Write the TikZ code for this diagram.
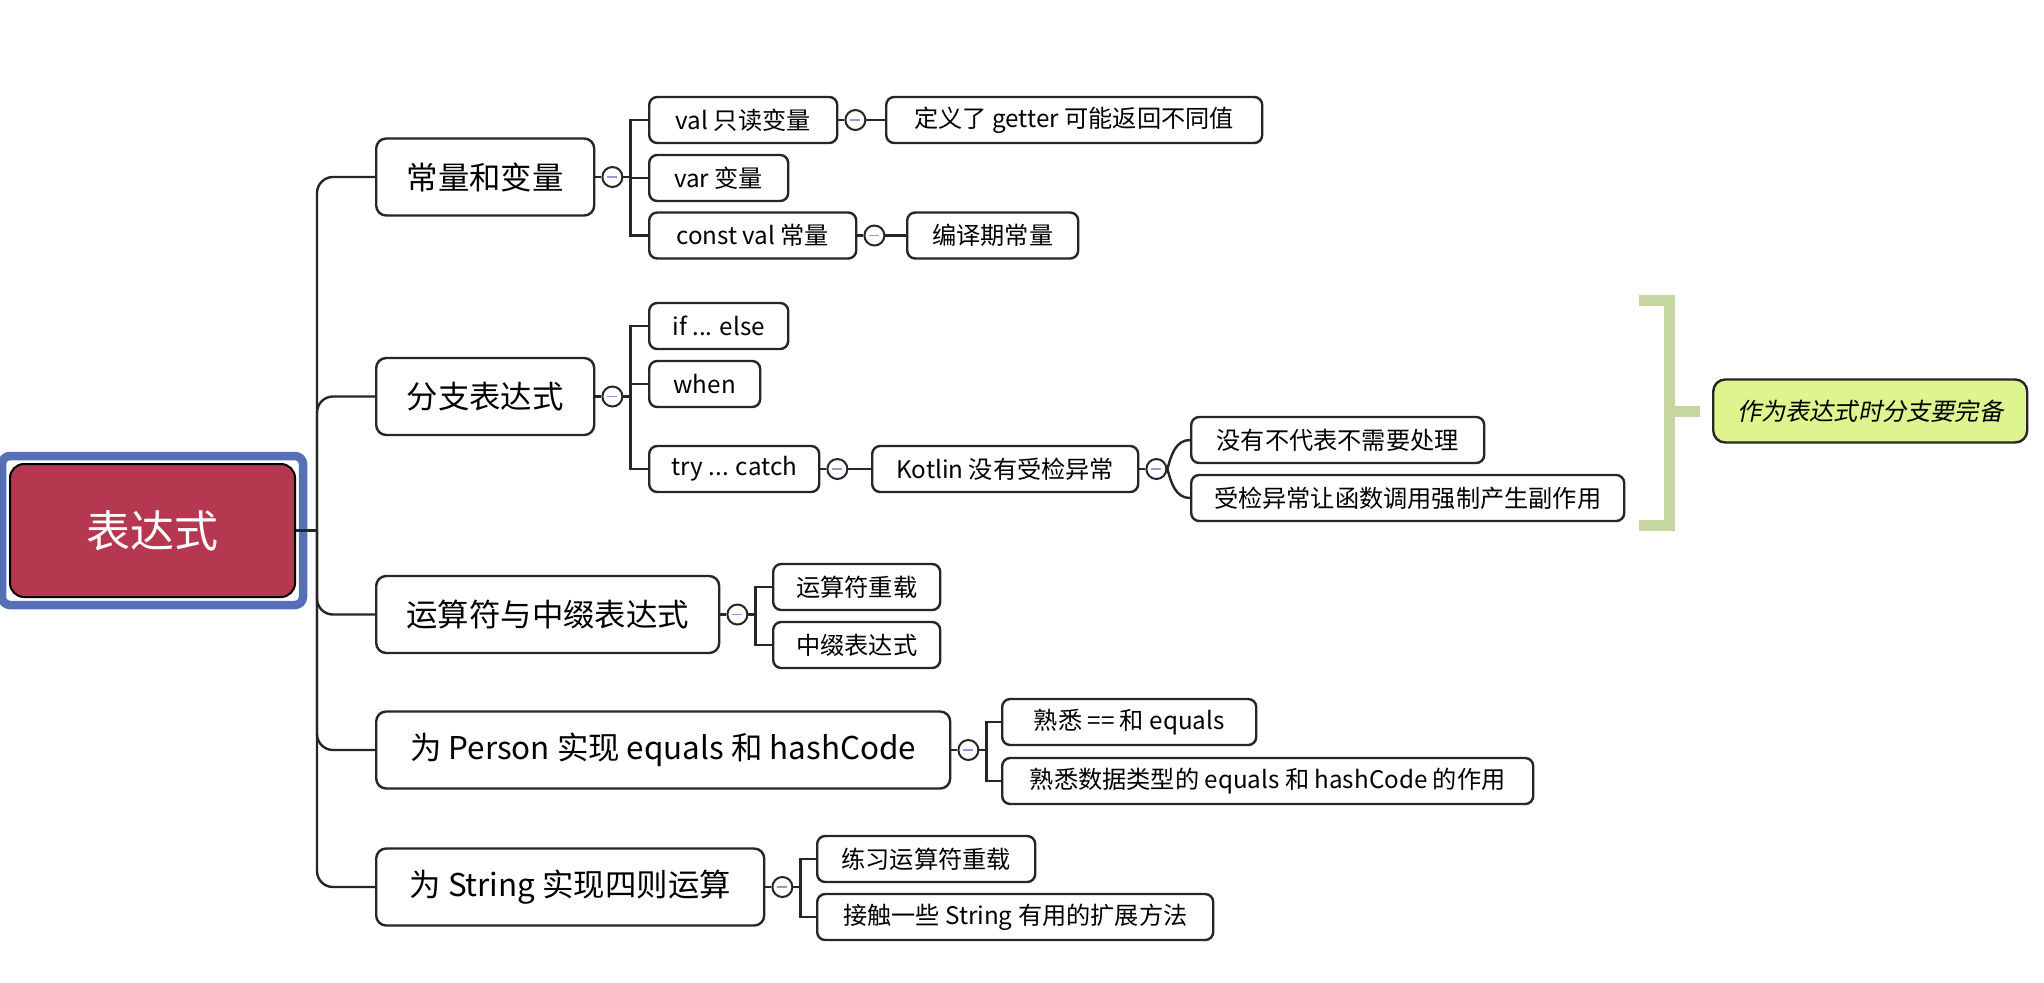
\documentclass[tikz,border=0pt]{standalone}
\usepackage{fontspec}
\setmainfont{Noto Sans CJK SC}
\newfontfamily\slantfont[FakeSlant=0.2]{Noto Sans CJK SC}
\usetikzlibrary{positioning}

\definecolor{rootred}{RGB}{181,55,80}
\definecolor{frameblue}{RGB}{86,112,184}
\definecolor{bracegreen}{RGB}{198,214,160}
\definecolor{notegreen}{RGB}{222,245,143}
\definecolor{minusblue}{RGB}{150,152,205}

\tikzset{
  link/.style={line width=1.2pt, draw=black!85},
  rootbox/.style={draw=black, line width=1pt, fill=rootred, rounded corners=7pt, text=white,
    minimum width=142.5pt, minimum height=66.5pt, font=\fontsize{22pt}{26pt}\selectfont},
  frame/.style={draw=frameblue, line width=4.25pt, rounded corners=4pt},
  mainbox/.style={draw=black!85, line width=1.2pt, fill=white, rounded corners=5pt, anchor=west,
    minimum height=38.5pt, font=\fontsize{15.7pt}{18pt}\selectfont},
  subbox/.style={draw=black!85, line width=1.2pt, fill=white, rounded corners=4pt, anchor=west,
    minimum height=23pt, font=\fontsize{12.1pt}{14pt}\selectfont},
  fold/.style={circle, draw=black!85, line width=1pt, fill=white, minimum size=10pt, inner sep=0pt,
    path picture={\draw[minusblue, line width=0.9pt]
      ([xshift=-2.5pt]path picture bounding box.center) -- ([xshift=2.5pt]path picture bounding box.center);}},
  summary/.style={draw=bracegreen, line width=5.5pt},
  notebox/.style={draw=black!85, line width=1.2pt, fill=notegreen, rounded corners=6pt, anchor=west,
    minimum width=157pt, minimum height=31.5pt, font=\slantfont\fontsize{12.1pt}{14pt}\selectfont}
}

\begin{document}
\begin{tikzpicture}[x=0.5pt,y=-0.5pt]
\useasboundingbox (0,0) rectangle (2044,982);
%root
\node[rootbox] (root) at (152.5,530.5) {表达式};
\draw[frame] ([shift={(-3.5pt,3.5pt)}]root.north west) rectangle ([shift={(3.5pt,-3.5pt)}]root.south east);
\coordinate (hub) at (317,530.5);
%main branches
\node[mainbox, minimum width=109pt] (consts) at (375,177) {常量和变量};
\node[mainbox, minimum width=109pt] (branch) at (375,396.5) {分支表达式};
\node[mainbox, minimum width=171.5pt] (oper) at (375,614.5) {运算符与中缀表达式};
\node[mainbox, minimum width=287pt] (equals) at (375,750) {为 Person 实现 equals 和 hashCode};
\node[mainbox, minimum width=194pt] (strops) at (375,887) {为 String 实现四则运算};
\draw[link] (root.east) -- (hub);
\foreach \m in {consts,branch,oper,equals,strops}
  \draw[link, rounded corners=8pt] (hub) |- (\m.west);
%fold buttons
\node[fold, right=3pt of consts] (fconsts) {};
\node[fold, right=3pt of branch] (fbranch) {};
\node[fold, right=3pt of oper] (foper) {};
\node[fold, right=3pt of equals] (fequals) {};
\node[fold, right=3pt of strops] (fstrops) {};
\foreach \m in {consts,branch,oper,equals,strops}
  \draw[link] (\m.east) -- (f\m.west);
%constants and variables
\node[subbox, minimum width=94pt] (valro) at (648,120) {val 只读变量};
\node[subbox, minimum width=69.5pt] (varmut) at (648,178) {var 变量};
\node[subbox, minimum width=103.5pt] (constval) at (648,235.5) {const val 常量};
\node[fold, right=3pt of valro] (fvalro) {};
\node[fold, right=3pt of constval] (fconstval) {};
\node[subbox, minimum width=188pt] (getter) at (885,120) {定义了 getter 可能返回不同值};
\node[subbox, minimum width=85.5pt] (compile) at (906,235.5) {编译期常量};
\foreach \c in {valro,varmut,constval}
  \draw[link] (fconsts.east) -- ++(7,0) |- (\c.west);
\draw[link] (valro.east) -- (fvalro.west);
\draw[link] (fvalro.east) -- (getter.west);
\draw[link] (constval.east) -- (fconstval.west);
\draw[link] (fconstval.east) -- (compile.west);
%branch expressions
\node[subbox, minimum width=69.5pt] (ifelse) at (648,326) {if ... else};
\node[subbox, minimum width=55.5pt] (when) at (648,384) {when};
\node[subbox, minimum width=85pt] (trycatch) at (648,469) {try ... catch};
\node[fold, right=3pt of trycatch] (ftry) {};
\node[subbox, minimum width=133pt] (nochk) at (871,469) {Kotlin 没有受检异常};
\node[fold, right=3pt of nochk] (fnochk) {};
\node[subbox, minimum width=146.5pt] (hasno) at (1190,440) {没有不代表不需要处理};
\node[subbox, minimum width=216.5pt] (sidefx) at (1190,498) {受检异常让函数调用强制产生副作用};
\foreach \c in {ifelse,when,trycatch}
  \draw[link] (fbranch.east) -- ++(7,0) |- (\c.west);
\draw[link] (trycatch.east) -- (ftry.west);
\draw[link] (ftry.east) -- (nochk.west);
\draw[link] (nochk.east) -- (fnochk.west);
\draw[link] (fnochk.east) to[out=75,in=180] (hasno.west);
\draw[link] (fnochk.east) to[out=-75,in=180] (sidefx.west);
%summary bracket
\node[notebox] (note) at (1712,411) {作为表达式时分支要完备};
\draw[summary] (1639,300) -| (1669,525) -- (1639,525);
\draw[summary] (1669,411) -- ([xshift=-6pt]note.west);
%operators
\node[subbox, minimum width=83.5pt] (overload) at (772,587) {运算符重载};
\node[subbox, minimum width=83.5pt] (infix) at (772,645) {中缀表达式};
\foreach \c in {overload,infix}
  \draw[link] (foper.east) -- ++(7,0) |- (\c.west);
%equals and hashCode
\node[subbox, minimum width=127pt] (eqeq) at (1001,722) {熟悉 == 和 equals};
\node[subbox, minimum width=265.5pt] (eqhash) at (1001,781) {熟悉数据类型的 equals 和 hashCode 的作用};
\foreach \c in {eqeq,eqhash}
  \draw[link] (fequals.east) -- ++(7,0) |- (\c.west);
%string operations
\node[subbox, minimum width=109pt] (strop) at (816,859) {练习运算符重载};
\node[subbox, minimum width=198pt] (strext) at (816,917) {接触一些 String 有用的扩展方法};
\foreach \c in {strop,strext}
  \draw[link] (fstrops.east) -- ++(7,0) |- (\c.west);
\end{tikzpicture}
\end{document}
